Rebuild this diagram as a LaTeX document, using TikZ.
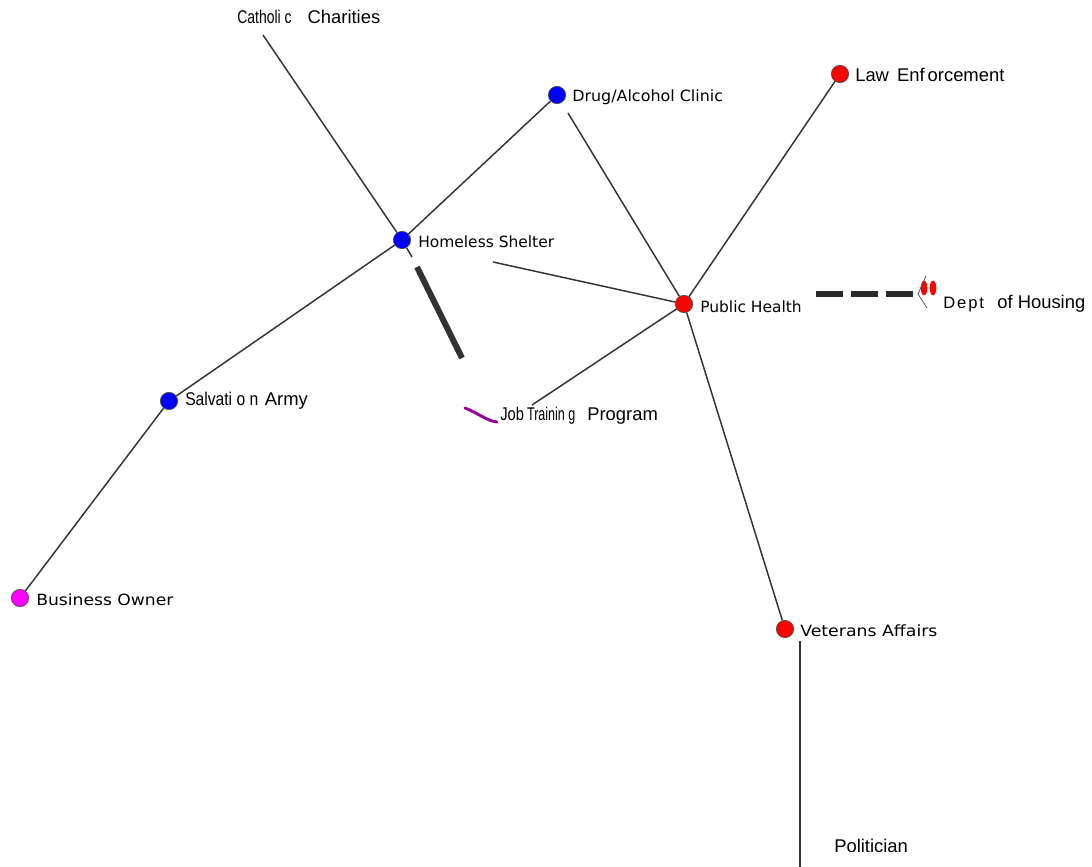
\documentclass[tikz,border=0pt]{standalone}
\usepackage{fontspec}
\setmainfont{Liberation Sans}
\newfontfamily\tahfont{DejaVu Sans}
\usepackage{graphicx}
\usetikzlibrary{shapes.geometric}
\definecolor{edgegray}{HTML}{333333}
\definecolor{dashgray}{HTML}{2A2A2A}
\definecolor{jobpurple}{HTML}{990099}
\begin{document}
\begin{tikzpicture}[x={(0.75pt,0)},y={(0,-0.75pt)},
  dot/.style={circle,draw=black!70,line width=0.5pt,minimum size=13pt,inner sep=0pt},
  arlab/.style={anchor=west,inner sep=0pt,font=\fontsize{13.8}{15}\selectfont},
  tahlab/.style={anchor=west,inner sep=0pt,font=\tahfont\fontsize{11.6}{13}\selectfont},
  edge/.style={draw=edgegray,line width=1.1pt},
  thickedge/.style={draw=edgegray,line width=4.5pt},
  dashedge/.style={draw=dashgray,line width=3.8pt,dash pattern=on 20.25pt off 6pt},
  curveedge/.style={draw=jobpurple,line width=2.2pt,line cap=round}]
\useasboundingbox (0,0) rectangle (1092,867);
% nodes
\node[dot,fill=blue] (hs) at (402,240) {};
\node[dot,fill=blue] (dac) at (557,95) {};
\node[dot,fill=red] (le) at (840,74) {};
\node[dot,fill=red] (ph) at (684,304) {};
\node[dot,fill=blue] (sa) at (169,401) {};
\node[dot,fill={rgb,255:red,255;green,0;blue,255}] (bo) at (20,598) {};
\node[dot,fill=red] (va) at (785,629) {};
\node[ellipse,fill=red,minimum width=5pt,minimum height=11pt,inner sep=0pt] (dh1) at (924,288) {};
\node[ellipse,fill=red,minimum width=5pt,minimum height=11pt,inner sep=0pt] (dh2) at (933,288) {};
% labels
\node[arlab] (ccl) at (237,17) {\scalebox{0.76}[1]{Catholi c}\hspace{12pt}Charities};
\node[tahlab] (dacl) at (572,97) {\scalebox{1.03}[1]{Drug/Alcohol Clinic}};
\node[arlab] (lel) at (855,75) {Law\hspace{6pt}Enf\,orcement};
\node[tahlab] (hsl) at (418,242) {Homeless Shelter};
\node[tahlab] (phl) at (700,307) {Public Health};
\node[arlab] (dhl) at (943,304) {\scalebox{0.9}{D\kern1.6pt e\kern1.6pt p\kern1.6pt t}\hspace{10pt}of Housing};
\node[arlab] (sal) at (185,401) {\scalebox{0.85}[1]{Salvati o n}\hspace{5pt}Army};
\node[arlab] (jtl) at (500,416) {\scalebox{0.8}[1]{Job}\,\scalebox{0.68}[1]{Trainin g}\hspace{9pt}Program};
\node[tahlab] (bol) at (36,600) {\scalebox{1.11}[1]{Business Owner}};
\node[tahlab] (val) at (800,631) {\scalebox{1.12}[1]{Veterans Affairs}};
\node[arlab] (pol) at (834,846) {Politician};
% free ends
\coordinate (ccend) at (263,35);
\coordinate (hsthru) at (412,257);
\coordinate (dacgap) at (568,113);
\coordinate (hsgap) at (493,262);
\coordinate (jtend) at (532,405);
\coordinate (thA) at (417,267);
\coordinate (thB) at (462,358);
\coordinate (vaA) at (800,641);
\coordinate (vaB) at (800,867);
\coordinate (dsA) at (816,294);
\coordinate (dsB) at (914,294);
\coordinate (hkA) at (926,276);
\coordinate (hkB) at (918,294);
\coordinate (hkC) at (927,308);
\coordinate (cvA) at (465,408);
\coordinate (cvB) at (497,422);
% edges
\draw[edge] (ccend) -- (hs);
\draw[edge] (hs) -- (hsthru);
\draw[edge] (hs) -- (dac);
\draw[edge] (hs) -- (sa);
\draw[edge] (sa) -- (bo);
\draw[edge] (dacgap) -- (ph);
\draw[edge] (hsgap) -- (ph);
\draw[edge] (le) -- (ph);
\draw[edge] (ph) -- (va);
\draw[edge] (ph) -- (jtend);
\draw[edge] (vaA) -- (vaB);
\draw[thickedge] (thA) -- (thB);
\draw[dashedge] (dsA) -- (dsB);
\draw[draw=black!65,line width=0.6pt] (hkA) -- (hkB) -- (hkC);
\draw[curveedge] (cvA) .. controls (478,413) and (487,421) .. (cvB);
\end{tikzpicture}
\end{document}
